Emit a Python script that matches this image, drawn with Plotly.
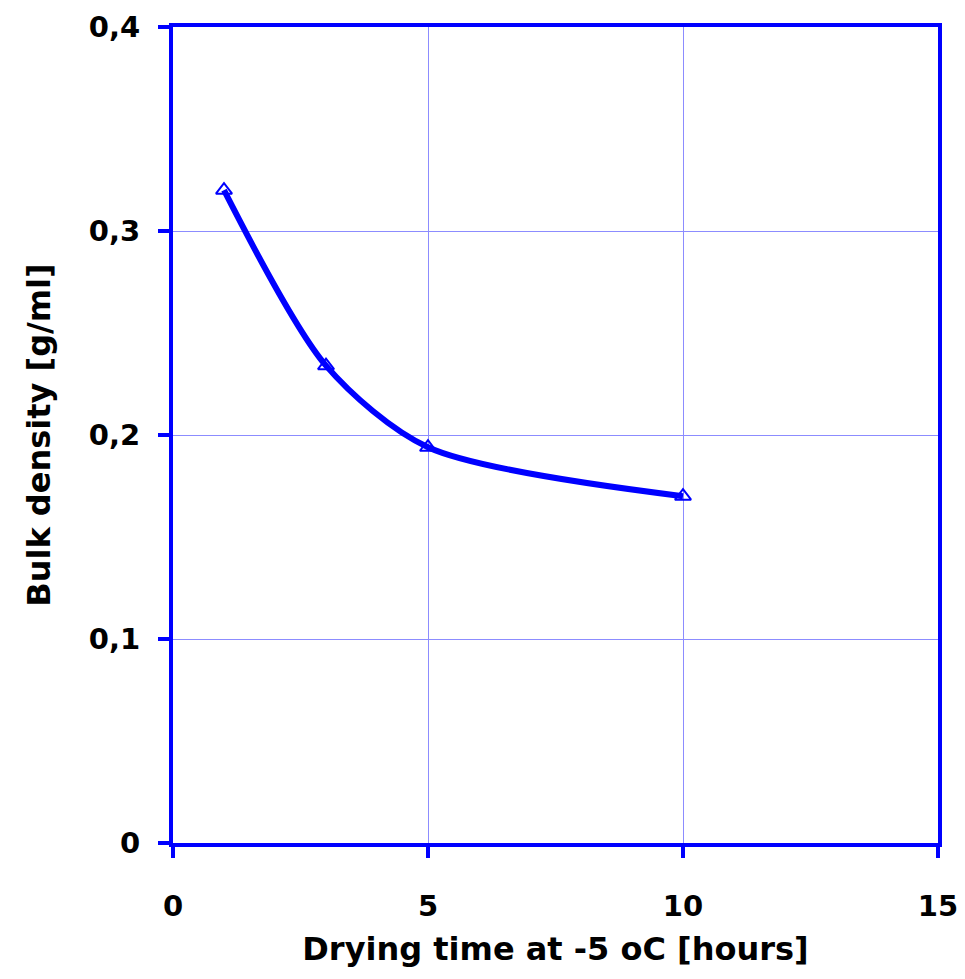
import plotly.graph_objects as go

drying_time = [1, 3, 5, 10]
bulk_density = [0.32, 0.234, 0.194, 0.17]
x_ticks = [0, 5, 10, 15]
y_ticks = [0, 0.1, 0.2, 0.3, 0.4]

BLUE = "#0000ff"
GRID = "#8c8cff"
FONT = "Comic Sans MS, DejaVu Sans"

fig = go.Figure()
fig.add_trace(go.Scatter(
    x=drying_time, y=bulk_density,
    mode="lines+markers",
    line=dict(color=BLUE, width=6, shape="spline", smoothing=0.8),
    marker=dict(symbol="triangle-up-open", size=14, color=BLUE, line=dict(width=2, color=BLUE)),
    showlegend=False,
))

axis_common = dict(
    showline=True, linecolor=BLUE, linewidth=4, mirror=True,
    showgrid=True, gridcolor=GRID, gridwidth=1,
    zeroline=False, automargin=False,
    ticks="outside", ticklen=11, tickwidth=4, tickcolor=BLUE,
    tickfont=dict(family=FONT, size=29, color="black", weight="bold"),
)

fig.update_xaxes(
    range=[0, 15], tickvals=x_ticks, ticktext=[str(v) for v in x_ticks],
    ticklabelstandoff=23,
    title=dict(text="Drying time at -5 oC [hours]", standoff=17,
               font=dict(family=FONT, size=32, color="black", weight="bold")),
    **axis_common,
)
fig.update_yaxes(
    range=[0, 0.4], tickvals=y_ticks, ticktext=[str(v).replace(".", ",") for v in y_ticks],
    ticklabelstandoff=12,
    title=dict(text="Bulk density [g/ml]", standoff=30,
               font=dict(family=FONT, size=32, color="black", weight="bold")),
    **axis_common,
)

fig.update_layout(
    width=965, height=979,
    margin=dict(l=173, r=27, t=27, b=136),
    plot_bgcolor="white", paper_bgcolor="white",
)

fig.write_html("out.html")
